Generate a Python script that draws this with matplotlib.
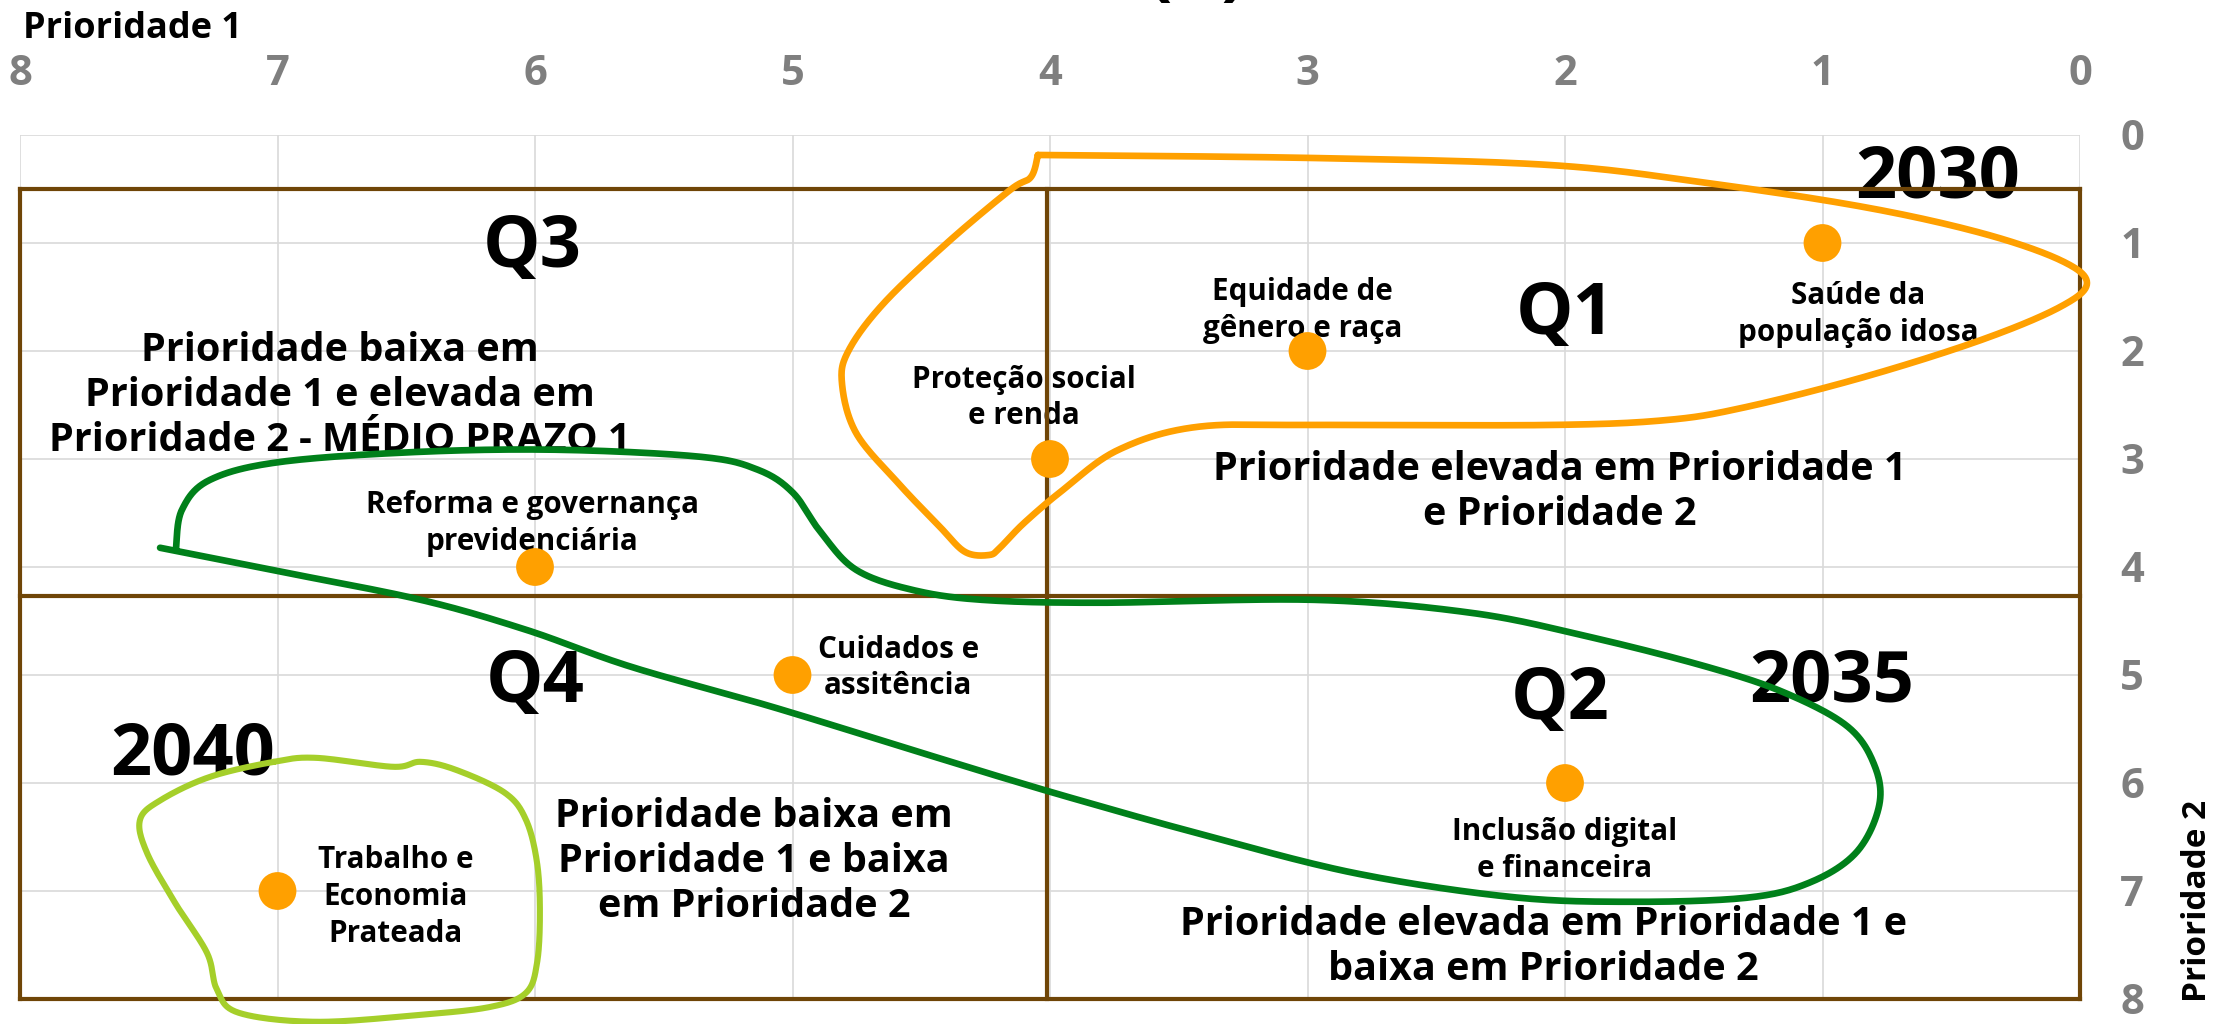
import numpy as np
import matplotlib
matplotlib.use("Agg")
import matplotlib.pyplot as plt

# ---------------- data ----------------
ticks = [0, 1, 2, 3, 4, 5, 6, 7, 8]

topic_names = ["Saúde da\npopulação idosa", "Equidade de\ngênero e raça",
               "Proteção social\ne renda", "Reforma e governança\nprevidenciária",
               "Cuidados e\nassitência", "Inclusão digital\ne financeira",
               "Trabalho e\nEconomia\nPrateada"]
prio1 = [1, 3, 4, 6, 5, 2, 7]
prio2 = [1, 2, 3, 4, 5, 6, 7]
# label anchor (x centre, baseline y of last line)
label_x = [0.86, 3.02, 4.10, 6.01, 4.59, 2.00, 6.54]
label_y = [1.91, 1.87, 2.68, 3.84, 5.18, 6.87, 7.47]

quad_names = ["Q1", "Q2", "Q3", "Q4"]
quad_x = [2.00, 2.02, 6.01, 6.00]
quad_y = [1.84, 5.41, 1.22, 5.25]

quad_desc = ["Prioridade elevada em Prioridade 1\ne Prioridade 2",
             "Prioridade elevada em Prioridade 1 e\nbaixa em Prioridade 2",
             "Prioridade baixa em\nPrioridade 1 e elevada em\nPrioridade 2 - MÉDIO PRAZO 1",
             "Prioridade baixa em\nPrioridade 1 e baixa\nem Prioridade 2"]
desc_x = [2.02, 2.085, 6.757, 5.15]
desc_y = [3.61, 7.82, 2.93, 7.24]

years = ["2030", "2035", "2040"]
year_x = [0.552, 0.963, 7.33]
year_y = [0.58, 5.25, 5.92]

# quadrant frame
frame_h_y = [0.5, 4.27, 8.0]
frame_v_x = [8.0, 4.01, 0.0]

# hand-drawn horizon outlines
orange_pts = [(4.047, 0.185), (2.975, 0.213), (2.058, 0.278), (1.449, 0.444), (0.839, 0.667),
              (0.384, 0.907), (0.078, 1.157), (-0.027, 1.37), (0.078, 1.593), (0.384, 1.898),
              (0.839, 2.241), (1.297, 2.519), (1.604, 2.639), (2.058, 2.685), (2.975, 2.685),
              (3.433, 2.704), (3.736, 2.917), (3.950, 3.287), (4.101, 3.593), (4.194, 3.82),
              (4.237, 3.889), (4.33, 3.86), (4.427, 3.63), (4.590, 3.222), (4.753, 2.759),
              (4.808, 2.296), (4.781, 1.991), (4.645, 1.556), (4.400, 1.0), (4.155, 0.509),
              (4.074, 0.389), (4.047, 0.185)]
green_pts = [(7.456, 3.822), (6.986, 4.044), (6.443, 4.304), (6.035, 4.581), (5.627, 4.924),
             (5.080, 5.294), (4.536, 5.693), (4.194, 5.943), (3.891, 6.156), (3.433, 6.461),
             (2.823, 6.831), (2.214, 7.054), (1.755, 7.100), (1.297, 7.063), (1.052, 6.924),
             (0.870, 6.646), (0.781, 6.220), (0.796, 5.850), (0.901, 5.480), (1.146, 5.165),
             (1.449, 4.924), (1.907, 4.646), (2.365, 4.424), (2.975, 4.304), (3.806, 4.331),
             (4.264, 4.304), (4.536, 4.211), (4.753, 4.026), (4.889, 3.683), (4.998, 3.313),
             (5.134, 3.100), (5.355, 2.980), (5.899, 2.915), (6.443, 2.933), (6.986, 3.026),
             (7.262, 3.193), (7.371, 3.470), (7.394, 3.822)]
lime_pts = [(7.014, 5.804), (6.850, 5.767), (6.551, 5.850), (6.443, 5.804), (6.307, 5.878),
            (6.117, 6.091), (6.035, 6.341), (5.992, 6.739), (5.981, 7.202), (5.992, 7.665),
            (6.035, 7.943), (6.171, 8.072), (6.443, 8.146), (6.850, 8.211), (7.150, 8.128),
            (7.235, 7.915), (7.274, 7.572), (7.398, 7.109), (7.507, 6.646), (7.534, 6.341),
            (7.452, 6.156), (7.262, 5.943)]

# ---------------- style ----------------
FONT = ["Open Sans", "DejaVu Sans"]
plt.rcParams['font.family'] = FONT
BROWN = "#6F4507"
ORANGE = "#FFA000"
GREEN = "#00801A"
LIME = "#A5CF2A"
GRID = "#D9D9D9"
TICKC = "#7F7F7F"


def smooth(pts, closed=False, n=24):
    P = np.asarray(pts, float)
    if closed:
        P = np.vstack([P[-1], P, P[0], P[1]])
    else:
        P = np.vstack([P[0], P, P[-1]])
    out = []
    t = np.linspace(0, 1, n, endpoint=False)[:, None]
    for i in range(1, len(P) - 2):
        p0, p1, p2, p3 = P[i - 1], P[i], P[i + 1], P[i + 2]
        seg = 0.5 * ((2 * p1) + (-p0 + p2) * t + (2 * p0 - 5 * p1 + 4 * p2 - p3) * t ** 2
                     + (-p0 + 3 * p1 - 3 * p2 + p3) * t ** 3)
        out.append(seg)
    out.append(P[-2][None])
    return np.vstack(out)


W, H = 2231, 1024
fig = plt.figure(figsize=(W / 100, H / 100), dpi=100)
ax = fig.add_axes([20 / W, 1 - 999 / H, 2060 / W, 864 / H])
ax.set_xlim(8, 0)
ax.set_ylim(8, 0)
ax.xaxis.tick_top()
ax.yaxis.tick_right()
ax.set_xticks(ticks)
ax.set_yticks(ticks)
ax.tick_params(length=0, pad=29, labelsize=30, labelcolor=TICKC)
for lab in ax.get_xticklabels() + ax.get_yticklabels():
    lab.set_fontweight("bold")
for s in ax.spines.values():
    s.set_visible(False)
ax.grid(True, color=GRID, linewidth=1.2, zorder=0)
ax.set_axisbelow(True)

# quadrant frame
for yv in frame_h_y:
    ax.plot([frame_v_x[0], frame_v_x[-1]], [yv, yv], color=BROWN, lw=3.0, zorder=3,
            solid_capstyle="projecting", clip_on=False)
for xv in frame_v_x:
    ax.plot([xv, xv], [frame_h_y[0], frame_h_y[-1]], color=BROWN, lw=3.0, zorder=3,
            solid_capstyle="projecting", clip_on=False)

# texts (va='baseline' anchors the last line of multi-line text)
for name, x, y in zip(quad_names, quad_x, quad_y):
    ax.text(x, y, name, fontsize=52, fontweight="bold", ha="center", va="baseline", zorder=2)
for name, x, y in zip(years, year_x, year_y):
    ax.text(x, y, name, fontsize=52, fontweight="bold", ha="center", va="baseline", zorder=2)
for d, x, y in zip(quad_desc, desc_x, desc_y):
    ax.text(x, y, d, fontsize=28.5, fontweight="bold", ha="center", va="baseline",
            linespacing=1.2, multialignment="center", zorder=2)
for nm, x, y in zip(topic_names, label_x, label_y):
    ax.text(x, y, nm, fontsize=21.3, fontweight="bold", ha="center", va="baseline",
            linespacing=1.3, multialignment="center", zorder=2)

# points
ax.scatter(prio1, prio2, s=740, color=ORANGE, edgecolors="none", zorder=4)

# outlines
for pts, col, closed, lw in [(orange_pts, ORANGE, False, 4.8),
                             (green_pts, GREEN, False, 4.8),
                             (lime_pts, LIME, True, 4.4)]:
    c = smooth(pts, closed=closed)
    ax.plot(c[:, 0], c[:, 1], color=col, lw=lw, zorder=5, clip_on=False,
            solid_capstyle="round", solid_joinstyle="round")

# axis titles
fig.text(23 / W, 1 - 38 / H, "Prioridade 1", fontsize=26, fontweight="bold",
         ha="left", va="baseline")
fig.text(2197 / W, 1 - 1002 / H, "Prioridade 2", fontsize=24, fontweight="bold",
         rotation=90, ha="center", va="bottom")
# cut-off title at the very top
fig.text(1197 / W, 1 + 8 / H, "(A)", fontsize=52, fontweight="bold",
         ha="center", va="baseline")

fig.savefig("out.png", dpi=100)
